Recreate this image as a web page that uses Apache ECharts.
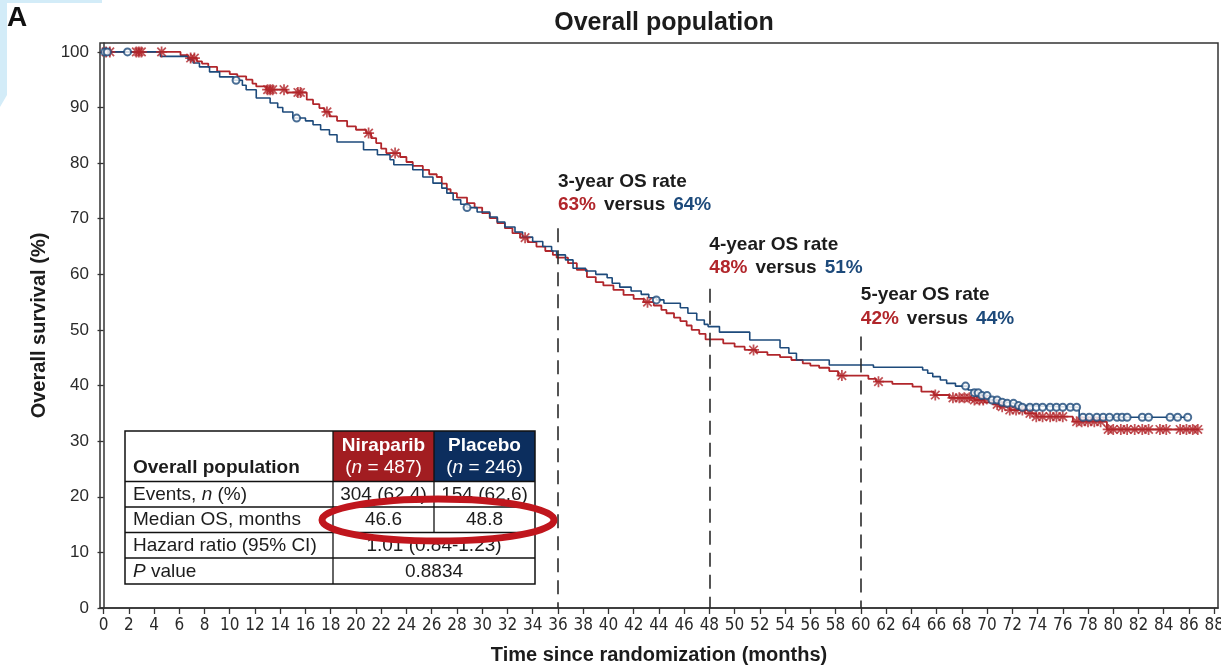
<!DOCTYPE html>
<html>
<head>
<meta charset="utf-8">
<script src="https://cdn.jsdelivr.net/npm/echarts@6/dist/echarts.min.js"></script>
<style>
  html, body { margin: 0; padding: 0; background: #fff; }
  #chart { width: 1221px; height: 668px; }
</style>
</head>
<body>
<div id="chart"></div>
<script>
// Kaplan–Meier curves: [month, overall survival %] at each drop of the step function
const niraparibSteps = [
  [0,100],[6.1,99.4],[6.7,98.9],[7.4,98.3],[7.8,97.9],[8.3,97.3],[9.0,96.5],[10.0,96.0],[10.6,95.6],
  [11.3,95.0],[11.8,94.3],[12.1,93.8],[12.9,93.2],[14.5,92.7],[16.1,91.4],[16.6,90.6],[17.1,89.9],
  [17.5,89.2],[17.9,88.4],[18.5,87.6],[19.3,86.6],[20.0,86.0],[20.8,85.4],[21.2,84.5],[21.6,83.6],
  [22.0,82.6],[22.4,81.8],[23.5,81.1],[24.0,80.2],[24.5,79.5],[25.3,78.8],[25.8,78.0],[26.4,77.5],
  [26.8,76.3],[27.2,75.3],[27.5,74.6],[28.0,73.8],[28.8,72.8],[29.4,72.0],[30.0,71.0],[30.6,70.1],
  [31.2,69.2],[31.8,68.3],[32.4,67.4],[33.0,66.6],[33.6,65.8],[34.3,65.0],[35.0,64.2],[35.6,63.5],
  [35.9,63.0],[36.8,62.0],[37.5,60.8],[38.3,59.5],[39.0,58.6],[39.6,58.0],[40.4,57.2],[41.2,56.3],
  [42.0,55.6],[42.8,55.0],[43.6,54.4],[44.2,53.6],[44.6,53.0],[45.2,52.2],[45.7,51.6],[46.2,50.8],
  [46.6,50.0],[47.2,49.3],[47.7,48.3],[49.1,47.6],[50.0,47.0],[50.8,46.4],[51.7,46.0],[52.6,45.5],
  [53.6,45.1],[54.5,44.6],[55.4,44.0],[56.0,43.6],[56.7,43.2],[57.5,42.6],[58.2,41.8],[60.6,41.2],
  [61.2,40.7],[62.5,40.3],[64.1,39.8],[64.8,38.9],[65.8,38.3],[67.0,37.8],[69.0,37.4],[69.8,37.0],
  [70.5,36.6],[71.0,36.2],[71.8,35.6],[73.0,35.0],[73.9,34.4],[76.8,33.5],[79.5,32.1],[86.8,32.1]
];
const placeboSteps = [
  [0,100],[4.5,99.2],[6.7,98.6],[7.1,98.0],[7.6,97.3],[8.4,96.4],[9.2,95.5],[10.3,94.9],[11.0,94.0],
  [11.3,93.2],[12.1,91.7],[13.2,90.8],[13.8,90.0],[14.2,89.2],[15.0,88.1],[16.0,87.6],[16.6,86.9],
  [17.2,86.0],[17.9,85.1],[18.5,83.8],[20.6,82.4],[21.7,81.5],[22.7,80.6],[23.0,79.7],[24.5,78.8],
  [25.3,77.5],[26.1,76.4],[26.8,75.5],[27.2,74.6],[27.7,73.4],[28.3,72.6],[28.8,72.0],[29.6,71.2],
  [30.6,70.3],[31.2,69.4],[31.8,68.5],[32.6,67.6],[33.2,66.7],[34.0,65.9],[34.8,65.0],[35.5,64.2],
  [35.9,63.5],[36.6,62.6],[37.2,61.1],[38.2,60.6],[39.0,60.0],[39.9,59.4],[40.3,58.4],[40.9,57.7],
  [41.8,57.0],[42.6,56.4],[43.2,55.8],[43.8,55.4],[44.4,54.8],[45.7,54.0],[46.3,53.0],[47.0,51.8],
  [47.6,51.0],[47.9,50.6],[48.8,49.6],[51.2,48.2],[53.6,46.8],[54.3,45.8],[54.9,44.6],[57.5,43.7],
  [61.0,43.3],[64.9,42.8],[65.3,42.2],[65.7,41.6],[66.3,41.0],[66.8,40.4],[67.5,39.9],[68.5,39.2],
  [68.9,38.7],[69.5,38.2],[70.2,37.4],[71.0,37.0],[71.6,36.8],[72.2,36.4],[72.8,36.1],[77.3,34.3],
  [85.9,34.3]
];

// Censoring times (months)
const niraparibCensored = [
  0.2,0.5,2.6,2.8,3.0,4.6,6.9,7.2,13.0,13.2,13.4,14.3,15.4,15.6,17.7,21.0,23.1,33.4,43.1,51.5,58.5,
  61.4,65.9,67.3,67.8,68.2,68.6,69.0,69.4,69.7,70.8,71.2,71.8,72.3,72.8,73.4,73.9,74.4,75.0,75.5,76.0,
  77.1,77.5,78.0,78.5,79.0,79.6,80.0,80.6,81.1,81.7,82.3,82.8,83.7,84.2,85.3,85.8,86.3,86.7
];
const placeboCensored = [
  0.1,0.3,1.9,10.5,15.3,28.8,43.8,68.3,69.0,69.3,69.6,70.0,70.4,70.8,71.2,71.6,72.1,72.5,72.8,73.4,
  73.9,74.4,75.0,75.5,76.0,76.6,77.1,77.6,78.1,78.7,79.2,79.7,80.3,80.7,81.1,82.3,82.8,84.5,85.1,85.9
];

// Axis ticks
const xTicks = [0,2,4,6,8,10,12,14,16,18,20,22,24,26,28,30,32,34,36,38,40,42,44,46,48,50,52,54,56,58,
  60,62,64,66,68,70,72,74,76,78,80,82,84,86,88];
const yTicks = [0,10,20,30,40,50,60,70,80,90,100];

// Landmark survival rates
const landmarkMonths = [36, 48, 60];
const landmarkTitles = ['3-year OS rate', '4-year OS rate', '5-year OS rate'];
const landmarkNiraparib = ['63%', '48%', '42%'];
const landmarkPlacebo = ['64%', '51%', '44%'];

// Summary table
const tableTitle = 'Overall population';
const armNames = ['Niraparib', 'Placebo'];
const armSizes = ['487', '246'];
const rowLabels = ['Events, {i|n} (%)', 'Median OS, months', 'Hazard ratio (95% CI)', '{i|P} value'];
const niraparibCells = ['304 (62.4)', '46.6'];
const placeboCells = ['154 (62.6)', '48.8'];
const mergedCells = ['1.01 (0.84-1.23)', '0.8834'];

const RED = '#b1262b';
const BLUE = '#1d4a7b';
const INK = '#1c1c1c';
const FONT = "'Liberation Sans', Arial, Helvetica, sans-serif";
const NARROW = "'Liberation Sans Narrow', 'Arial Narrow', 'DejaVu Sans Condensed', 'Liberation Sans', sans-serif";

function survivalAt(steps, t) {
  let v = steps[0][1];
  for (const [m, s] of steps) {
    if (m <= t) v = s; else break;
  }
  return v;
}

// eight-armed asterisk used for censored Niraparib patients
const asteriskPath = 'path://M4.2 0H5.8V10H4.2Z M0 4.2H10V5.8H0Z M0.6 1.7L1.7 0.6L9.4 8.3L8.3 9.4Z M8.3 0.6L9.4 1.7L1.7 9.4L0.6 8.3Z';

const chart = echarts.init(document.getElementById('chart'), null, { renderer: 'canvas' });

// Dashed landmark lines: top of each line in survival units
const landmarkLineTop = [68.3, 57.4, 48.8];

// Table layout (pixels)
const tx = [125, 333, 434, 535];
const ty = [431, 481.5, 507, 532.5, 558, 584];
const rowMid = [494.5, 520, 545.5, 571.5];

function tableGraphics() {
  const g = [];
  g.push({ type: 'rect', shape: { x: tx[1], y: ty[0], width: tx[2] - tx[1], height: ty[1] - ty[0] },
    style: { fill: '#a21d21' }, z: 10 });
  g.push({ type: 'rect', shape: { x: tx[2], y: ty[0], width: tx[3] - tx[2], height: ty[1] - ty[0] },
    style: { fill: '#0c2e5e' }, z: 10 });
  g.push({ type: 'rect', shape: { x: tx[0], y: ty[0], width: tx[3] - tx[0], height: ty[5] - ty[0] },
    style: { fill: 'none', stroke: '#111', lineWidth: 1.5 }, z: 12 });
  for (let r = 1; r <= 4; r++) {
    g.push({ type: 'line', shape: { x1: tx[0], y1: ty[r], x2: tx[3], y2: ty[r] },
      style: { stroke: '#111', lineWidth: 1.3 }, z: 12 });
  }
  g.push({ type: 'line', shape: { x1: tx[1], y1: ty[0], x2: tx[1], y2: ty[5] },
    style: { stroke: '#111', lineWidth: 1.3 }, z: 12 });
  g.push({ type: 'line', shape: { x1: tx[2], y1: ty[0], x2: tx[2], y2: ty[3] },
    style: { stroke: '#111', lineWidth: 1.3 }, z: 12 });

  const base = { fontFamily: FONT, fontSize: 19, fill: INK };
  g.push({ type: 'text', x: 133, y: 468, z: 13,
    style: Object.assign({}, base, { text: tableTitle, fontWeight: 'bold', verticalAlign: 'middle' }) });
  const colMid = [(tx[1] + tx[2]) / 2, (tx[2] + tx[3]) / 2];
  for (let c = 0; c < 2; c++) {
    g.push({ type: 'text', x: colMid[c], y: 446, z: 13,
      style: Object.assign({}, base, { text: armNames[c], fill: '#fff', fontWeight: 'bold',
        align: 'center', verticalAlign: 'middle' }) });
    g.push({ type: 'text', x: colMid[c], y: 468, z: 13,
      style: Object.assign({}, base, { text: '({i|n} = ' + armSizes[c] + ')', fill: '#fff',
        align: 'center', verticalAlign: 'middle',
        rich: { i: { fontStyle: 'italic', fontFamily: FONT, fontSize: 19, fill: '#fff' } } }) });
  }
  for (let r = 0; r < 4; r++) {
    g.push({ type: 'text', x: 133, y: rowMid[r], z: 13,
      style: Object.assign({}, base, { text: rowLabels[r], verticalAlign: 'middle',
        rich: { i: { fontStyle: 'italic', fontFamily: FONT, fontSize: 19, fill: INK } } }) });
  }
  for (let r = 0; r < 2; r++) {
    g.push({ type: 'text', x: colMid[0], y: rowMid[r], z: 13,
      style: Object.assign({}, base, { text: niraparibCells[r], align: 'center', verticalAlign: 'middle' }) });
    g.push({ type: 'text', x: colMid[1], y: rowMid[r], z: 13,
      style: Object.assign({}, base, { text: placeboCells[r], align: 'center', verticalAlign: 'middle' }) });
    g.push({ type: 'text', x: (tx[1] + tx[3]) / 2, y: rowMid[r + 2], z: 13,
      style: Object.assign({}, base, { text: mergedCells[r], align: 'center', verticalAlign: 'middle' }) });
  }
  // highlight ring around the median row
  g.push({ type: 'ellipse', shape: { cx: 438, cy: 520, rx: 116, ry: 21 },
    style: { fill: 'none', stroke: '#c0161d', lineWidth: 7 }, z: 20 });
  return g;
}

const option = {
  animation: false,
  backgroundColor: '#ffffff',
  title: {
    text: 'Overall population', left: 659, top: 6, textAlign: 'center',
    textStyle: { fontFamily: FONT, fontSize: 25, fontWeight: 'bold', color: INK }
  },
  grid: {
    left: 100, right: 3, top: 43, bottom: 60,
    outerBoundsMode: 'none', containLabel: false,
    show: true, borderColor: '#333', borderWidth: 1.5, backgroundColor: 'transparent'
  },
  xAxis: {
    type: 'value', min: -0.28, max: 88.3,
    name: 'Time since randomization (months)', nameLocation: 'middle', nameGap: 37,
    nameTextStyle: { fontFamily: FONT, fontSize: 20, fontWeight: 'bold', color: INK },
    axisLine: { show: true, lineStyle: { color: '#333', width: 1.5 } },
    axisTick: { show: true, length: 6, customValues: xTicks, lineStyle: { color: '#333', width: 1.3 } },
    axisLabel: { customValues: xTicks, margin: 9, fontFamily: NARROW, fontSize: 17, color: '#2a2a2a' },
    splitLine: { show: false }
  },
  yAxis: {
    type: 'value', min: 0, max: 101.6,
    name: 'Overall survival (%)', nameLocation: 'middle', nameGap: 50, nameRotate: 90,
    nameTextStyle: { fontFamily: FONT, fontSize: 20, fontWeight: 'bold', color: INK },
    axisLine: { show: true, lineStyle: { color: '#333', width: 1.5 } },
    axisTick: { show: true, length: 6, customValues: yTicks, lineStyle: { color: '#333', width: 1.3 } },
    axisLabel: { customValues: yTicks, margin: 11, fontFamily: FONT, fontSize: 17, color: '#2a2a2a' },
    splitLine: { show: false }
  },
  series: [
    {
      name: 'Niraparib', type: 'line', step: 'end', data: niraparibSteps,
      showSymbol: false, z: 3,
      lineStyle: { color: RED, width: 1.8 }, itemStyle: { color: RED },
      markLine: {
        silent: true, symbol: ['none', 'none'], label: { show: false },
        lineStyle: { color: '#2b2b2b', type: [14, 8], width: 1.6 },
        data: landmarkMonths.map((m, i) => [{ coord: [m, landmarkLineTop[i]] }, { coord: [m, 0] }])
      }
    },
    {
      name: 'Placebo', type: 'line', step: 'end', data: placeboSteps,
      showSymbol: false, z: 4,
      lineStyle: { color: BLUE, width: 1.6 }, itemStyle: { color: BLUE }
    },
    {
      name: 'Niraparib censored', type: 'scatter', z: 5,
      data: niraparibCensored.map(t => [t, survivalAt(niraparibSteps, t)]),
      symbol: asteriskPath, symbolSize: 11,
      itemStyle: { color: RED }
    },
    {
      name: 'Placebo censored', type: 'scatter', z: 6,
      data: placeboCensored.map(t => [t, survivalAt(placeboSteps, t)]),
      symbol: 'emptyCircle', symbolSize: 7,
      itemStyle: { color: BLUE, borderColor: BLUE, borderWidth: 1.6 }
    }
  ],
  graphic: [
    { id: 'corner', type: 'polygon', z: 0,
      shape: { points: [[0, 0], [102, 0], [102, 3], [7, 3], [7, 95], [0, 107]] },
      style: { fill: '#d3ecf8' } },
    { id: 'panel', type: 'text', x: 7, y: 4, z: 5,
      style: { text: 'A', fontFamily: FONT, fontSize: 28, fontWeight: 'bold', fill: '#111' } }
  ].concat(tableGraphics())
};

chart.setOption(option);

// Landmark rate annotations placed at the dashed lines
const titleLevel = [76.7, 65.3, 56.3];
const rateLevel = [72.5, 61.1, 52.1];
const notes = [];
landmarkMonths.forEach((m, i) => {
  const p1 = chart.convertToPixel({ gridIndex: 0 }, [m, titleLevel[i]]);
  const p2 = chart.convertToPixel({ gridIndex: 0 }, [m, rateLevel[i]]);
  notes.push({ id: 'lmTitle' + i, type: 'text', x: p1[0], y: p1[1], z: 15,
    style: { text: landmarkTitles[i], fontFamily: FONT, fontSize: 19, fontWeight: 'bold',
      fill: INK, verticalAlign: 'middle' } });
  notes.push({ id: 'lmRate' + i, type: 'text', x: p2[0], y: p2[1], z: 15,
    style: { text: '{r|' + landmarkNiraparib[i] + '}{k|versus}{b|' + landmarkPlacebo[i] + '}',
      verticalAlign: 'middle',
      rich: {
        r: { fontFamily: FONT, fontSize: 19, fontWeight: 'bold', fill: RED },
        k: { fontFamily: FONT, fontSize: 19, fontWeight: 'bold', fill: INK, padding: [0, 8, 0, 8] },
        b: { fontFamily: FONT, fontSize: 19, fontWeight: 'bold', fill: BLUE }
      } } });
});
chart.setOption({ graphic: notes });
</script>
</body>
</html>
